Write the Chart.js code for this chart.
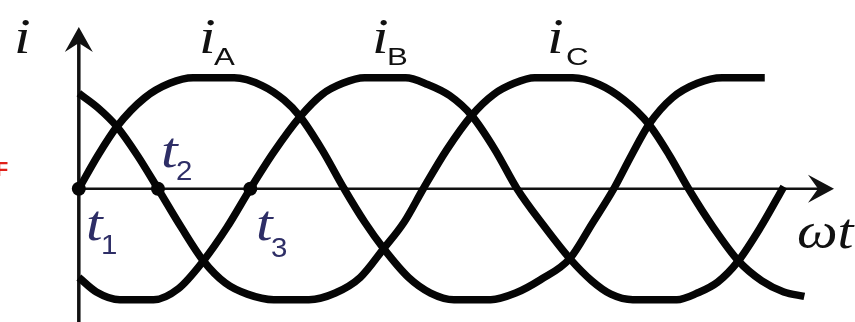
<!DOCTYPE html>
<html><head><meta charset="utf-8">
<script src="https://cdn.jsdelivr.net/npm/chart.js@4/dist/chart.umd.min.js"></script>
<style>html,body{margin:0;padding:0;background:#fff;overflow:hidden}#wrap{width:855px;height:322px;position:relative}</style>
</head><body><div id="wrap"><canvas id="c" width="855" height="322"></canvas></div>
<script>
// ---- data (x: ωt in degrees, y: current, peak = 1) ----
const seriesNames = ['A', 'B', 'C'];
const phaseA_deg = [0, 13, 26, 45, 62, 78, 106, 125, 140, 151, 166, 181, 195, 208, 225, 240, 256, 281, 298, 315, 335, 350, 365, 377, 389, 405, 422, 439, 468];
const phaseA_val = [0, 0.3, 0.56, 0.82, 0.95, 1, 1, 0.93, 0.8, 0.65, 0.35, 0, -0.3, -0.54, -0.8, -0.94, -1, -1, -0.94, -0.82, -0.63, -0.32, 0, 0.3, 0.58, 0.82, 0.95, 1, 1];
const phaseB_deg = [0, 12, 28, 51, 68, 85, 101, 117, 133, 151, 166, 180, 195, 223, 238, 253, 268, 284, 299, 317, 335, 350, 363, 378, 408, 422, 436, 450, 465, 481];
const phaseB_val = [-0.8, -0.93, -1, -1, -0.9, -0.65, -0.35, 0, 0.33, 0.65, 0.85, 0.95, 1, 1, 0.94, 0.84, 0.66, 0.35, 0, -0.33, -0.63, -0.83, -0.95, -1, -1, -0.94, -0.84, -0.65, -0.35, 0.02];
const phaseC_deg = [0, 13, 26, 40, 54, 70, 85, 100, 115, 133, 157, 175, 192, 208, 222, 235, 251, 268, 283, 297, 311, 337, 355, 372, 389, 403, 416, 433, 450, 466, 481, 495];
const phaseC_val = [0.86, 0.73, 0.56, 0.3, 0, -0.35, -0.65, -0.85, -0.95, -1, -1, -0.94, -0.8, -0.54, -0.3, 0, 0.35, 0.66, 0.85, 0.95, 1, 1, 0.94, 0.8, 0.58, 0.3, 0, -0.35, -0.65, -0.83, -0.93, -0.97];
const instants_deg = [0, 54, 117];
const instants_val = [0, 0, 0];
const instantSubs = ['1', '2', '3'];

const toPts = (xs, ys) => xs.map((x, i) => ({x: x, y: ys[i]}));
const curves = [[phaseA_deg, phaseA_val], [phaseB_deg, phaseB_val], [phaseC_deg, phaseC_val]];

const datasets = curves.map((c, k) => ({
  label: 'i' + seriesNames[k],
  data: toPts(c[0], c[1]),
  showLine: true,
  borderColor: '#050505',
  borderWidth: 7.5,
  pointRadius: 0,
  cubicInterpolationMode: 'monotone',
  borderCapStyle: 'butt',
  order: 2
}));
datasets.push({
  label: 'instants',
  data: toPts(instants_deg, instants_val),
  showLine: false,
  pointRadius: 7,
  pointBackgroundColor: '#050505',
  pointBorderColor: '#050505',
  borderWidth: 0,
  order: 1
});

function txt(ctx, s, x, y, font, color, sx) {
  ctx.save();
  ctx.font = font;
  ctx.fillStyle = color;
  ctx.textBaseline = 'alphabetic';
  ctx.textAlign = 'left';
  ctx.translate(x, y);
  ctx.scale(sx, 1);
  ctx.fillText(s, 0, 0);
  ctx.restore();
}

const axesPlugin = {
  id: 'axesPlugin',
  beforeDatasetsDraw(chart) {
    const ctx = chart.ctx, xs = chart.scales.x, ys = chart.scales.y;
    const x0 = xs.getPixelForValue(0), y0 = ys.getPixelForValue(0);
    ctx.save();
    ctx.strokeStyle = '#111';
    ctx.fillStyle = '#111';
    // vertical axis
    ctx.lineWidth = 3.5;
    ctx.beginPath(); ctx.moveTo(x0, 322); ctx.lineTo(x0, 36); ctx.stroke();
    ctx.beginPath();
    ctx.moveTo(x0, 27); ctx.lineTo(x0 + 14, 52); ctx.lineTo(x0, 43); ctx.lineTo(x0 - 14, 52); ctx.closePath(); ctx.fill();
    // horizontal axis
    ctx.lineWidth = 2.5;
    ctx.beginPath(); ctx.moveTo(x0, y0); ctx.lineTo(826, y0); ctx.stroke();
    ctx.beginPath();
    ctx.moveTo(834, y0); ctx.lineTo(808, y0 - 14); ctx.lineTo(818, y0); ctx.lineTo(808, y0 + 14); ctx.closePath(); ctx.fill();
    ctx.restore();
  },
  afterDraw(chart) {
    const ctx = chart.ctx;
    const serif = 'italic 50px "Liberation Serif", "DejaVu Serif", serif';
    const sans = '24px "Liberation Sans", Arial, sans-serif';
    const sans2 = '28px "Liberation Sans", Arial, sans-serif';
    const ink = '#111';
    const navy = '#2e2e66';
    txt(ctx, 'i', 14, 53, serif, ink, 1.2);
    // phase labels
    const phasePos = [[199, 214], [372, 387], [547, 566]];
    seriesNames.forEach((n, k) => {
      txt(ctx, 'i', phasePos[k][0], 53, serif, ink, 1.2);
      txt(ctx, n, phasePos[k][1], 65, sans, ink, 1.3);
    });
    // instant labels
    const tPos = [[86, 240, 101, 254], [161, 167, 176, 180], [256, 240, 271, 257]];
    instantSubs.forEach((s, k) => {
      txt(ctx, 't', tPos[k][0], tPos[k][1], serif, navy, 1.2);
      txt(ctx, s, tPos[k][2], tPos[k][3], sans2, navy, 1.05);
    });
    txt(ctx, 'ωt', 797, 248, serif, ink, 1.15);
    txt(ctx, 'F', -4, 176, 'bold 20px "Liberation Sans", Arial, sans-serif', '#e0201a', 1);
  }
};

new Chart(document.getElementById('c'), {
  type: 'scatter',
  data: { datasets: datasets },
  options: {
    responsive: false,
    animation: false,
    devicePixelRatio: 1,
    layout: { padding: 0 },
    plugins: { legend: { display: false }, title: { display: false }, tooltip: { enabled: false } },
    scales: {
      x: { type: 'linear', display: false, min: -49, max: 524.8 },
      y: { type: 'linear', display: false, min: -1.138, max: 1.638 }
    },
    elements: { line: { tension: 0.4 } }
  },
  plugins: [{ id: 'bg', beforeDraw(c) { const g = c.ctx; g.save(); g.fillStyle = '#fff'; g.fillRect(0, 0, c.width, c.height); g.restore(); } }, axesPlugin]
});
</script>
</body></html>
